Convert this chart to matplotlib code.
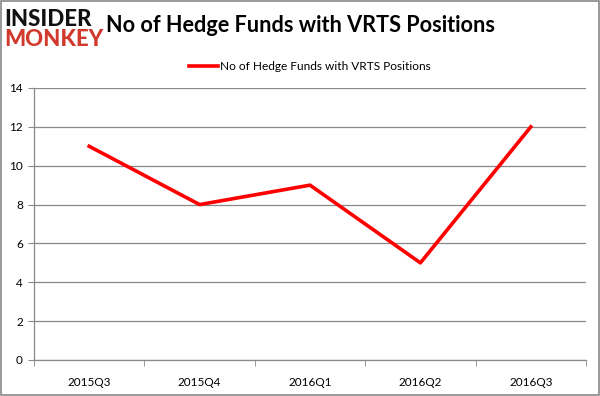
import matplotlib
matplotlib.use('Agg')
import matplotlib.pyplot as plt
from matplotlib.patches import Rectangle

quarters = ['2015Q3', '2015Q4', '2016Q1', '2016Q2', '2016Q3']
funds = [11, 8, 9, 5, 12]
yticks = [0, 2, 4, 6, 8, 10, 12, 14]

plt.rcParams['font.family'] = ['Lato', 'DejaVu Sans']

fig = plt.figure(figsize=(6, 3.96), dpi=100)
ax = fig.add_axes([34/600, 36/396, 552/600, 272/396])

x = list(range(len(quarters)))
ax.plot(x, funds, color='#ff0000', linewidth=2.6, label='No of Hedge Funds with VRTS Positions')

ax.set_xlim(-0.5, len(quarters) - 0.5)
ax.set_ylim(0, 14)
ax.set_yticks(yticks)
ax.set_xticks(x)
ax.set_xticklabels(quarters)
ax.set_xticks([i - 0.5 for i in range(len(quarters) + 1)], minor=True)
ax.tick_params(axis='x', which='major', length=0, pad=12, labelsize=8.5)
ax.tick_params(axis='x', which='minor', length=4, color='#888888', direction='out')
ax.tick_params(axis='y', length=4, color='#888888', labelsize=8.5, pad=4)
ax.grid(axis='y', color='#888888', linewidth=0.9)
ax.set_axisbelow(True)
for side in ['top', 'right']:
    ax.spines[side].set_visible(False)
for side in ['left', 'bottom']:
    ax.spines[side].set_color('#888888')
    ax.spines[side].set_linewidth(0.9)

ax.legend(loc='lower center', bbox_to_anchor=(0.5, 1.02), frameon=False,
          fontsize=8.6, handlelength=2.4, handletextpad=0.15)

fig.text(300/600, 1 - 25/396, 'No of Hedge Funds with VRTS Positions',
         ha='center', va='center', fontsize=15.6, fontweight='bold')
fig.text(4/600, 1 - 19/396, 'INSIDER', ha='left', va='center',
         fontsize=16, fontweight='black', color='#111111')
fig.text(4/600, 1 - 40/396, 'MONKEY', ha='left', va='center',
         fontsize=16, fontweight='black', color='#d0392b')

fig.patches.append(Rectangle((0.001, 0.002), 0.997, 0.995, transform=fig.transFigure,
                             fill=False, edgecolor='#888888', linewidth=1.2))

fig.savefig('out.png', dpi=100)
